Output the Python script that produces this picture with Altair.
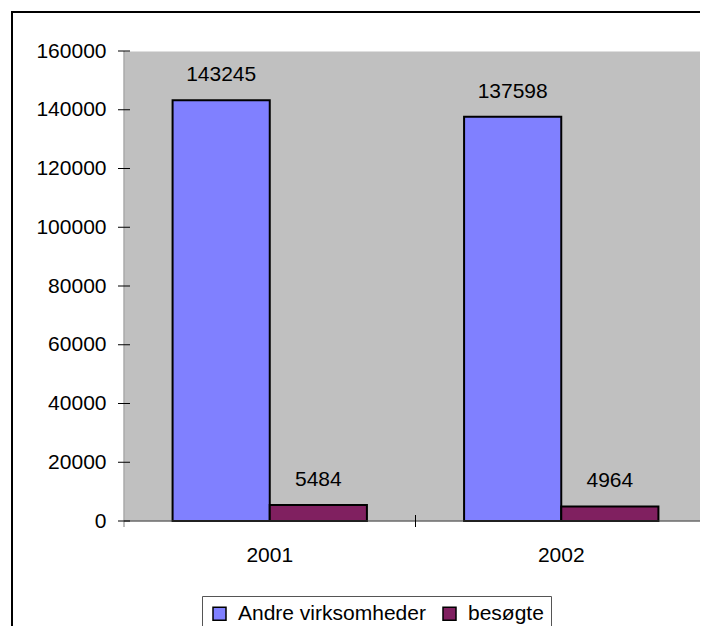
import altair as alt
import pandas as pd

# ---- data ----
years = ["2001", "2002"]
series_names = ["Andre virksomheder", "besøgte"]
andre_values = [143245, 137598]
besogte_values = [5484, 4964]
tick_values = [0, 20000, 40000, 60000, 80000, 100000, 120000, 140000, 160000]
colors = ["#8080FF", "#802060"]

W, H = 583, 470
PAD = {"left": 116, "top": 43, "right": -7, "bottom": 105}
FONT = "Liberation Sans"
FS = 21

rows = []
for i, yr in enumerate(years):
    rows.append({"year": yr, "series": series_names[0], "value": andre_values[i]})
    rows.append({"year": yr, "series": series_names[1], "value": besogte_values[i]})
df = pd.DataFrame(rows)
ticks_df = pd.DataFrame({"value": tick_values})
one = pd.DataFrame({"a": [0]})

x_enc = alt.X(
    "year:N", sort=years,
    scale=alt.Scale(domain=years, paddingInner=0, paddingOuter=0),
    axis=alt.Axis(title=None, labelAngle=0, labelFontSize=FS, labelFont=FONT,
                  labelColor="black", domain=False, ticks=False, tickSize=0,
                  labelPadding=23, grid=False),
)
xoff_enc = alt.XOffset(
    "series:N", sort=series_names,
    scale=alt.Scale(domain=series_names, paddingInner=0, paddingOuter=0.5),
)
y_scale = alt.Scale(domain=[0, 160000], nice=False, zero=True)
y_enc = alt.Y(
    "value:Q", scale=y_scale,
    axis=alt.Axis(title=None, values=tick_values, format="d", labelFontSize=FS,
                  labelFont=FONT, labelColor="black", domain=False, ticks=False,
                  tickSize=0, grid=False, labelPadding=18),
)

bars = alt.Chart(df).mark_bar(stroke="black", strokeWidth=2).encode(
    x=x_enc,
    xOffset=xoff_enc,
    y=y_enc,
    color=alt.Color(
        "series:N",
        scale=alt.Scale(domain=series_names, range=colors),
        legend=alt.Legend(
            orient="none", legendX=78, legendY=545, direction="horizontal",
            title=None, symbolType="square", symbolSize=169,
            symbolStrokeColor="black", symbolStrokeWidth=1.5,
            labelFontSize=FS, labelFont=FONT, labelColor="black",
            labelOffset=8, columnPadding=13, padding=7, labelLimit=400,
            strokeColor="#555555", fillColor="white",
        ),
    ),
)

labels = alt.Chart(df).mark_text(
    dy=-19, baseline="alphabetic", fontSize=FS, font=FONT, color="black"
).encode(
    x=x_enc,
    xOffset=xoff_enc,
    y=y_enc,
    text=alt.Text("value:Q", format="d"),
)

y_ticks = alt.Chart(ticks_df).mark_rule(color="black", strokeWidth=1).encode(
    y=y_enc, x=alt.value(-6), x2=alt.value(6)
)

y_line = alt.Chart(one).mark_rule(color="#808080", strokeWidth=1).encode(
    x=alt.value(0), y=alt.value(0), y2=alt.value(H + 6)
)
x_line = alt.Chart(one).mark_rule(color="#404040", strokeWidth=1).encode(
    y=alt.value(H), x=alt.value(0), x2=alt.value(W)
)
x_ticks = [
    alt.Chart(one).mark_rule(color="black", strokeWidth=1).encode(
        x=alt.value(p), y=alt.value(H - 6), y2=alt.value(H + 6)
    )
    for p in [W / 2, W - 1]
]

# outer frame (top and left edges; kept inside the drawing area)
right_edge = W + PAD["right"]
bottom_edge = H + PAD["bottom"]
frame_top = alt.Chart(one).mark_rule(color="black", strokeWidth=2).encode(
    y=alt.value(-39), x=alt.value(-113), x2=alt.value(right_edge)
)
frame_left = alt.Chart(one).mark_rule(color="black", strokeWidth=2).encode(
    x=alt.value(-112), y=alt.value(-40), y2=alt.value(bottom_edge)
)

chart = alt.layer(frame_top, frame_left, bars, labels, y_line, x_line, y_ticks, *x_ticks).properties(
    width=W, height=H,
    padding=PAD,
    autosize=alt.AutoSizeParams(type="none"),
).configure(font=FONT).configure_view(fill="#C0C0C0", stroke="transparent")

chart.save("out.html", embed_options={"renderer": "svg", "actions": False})
